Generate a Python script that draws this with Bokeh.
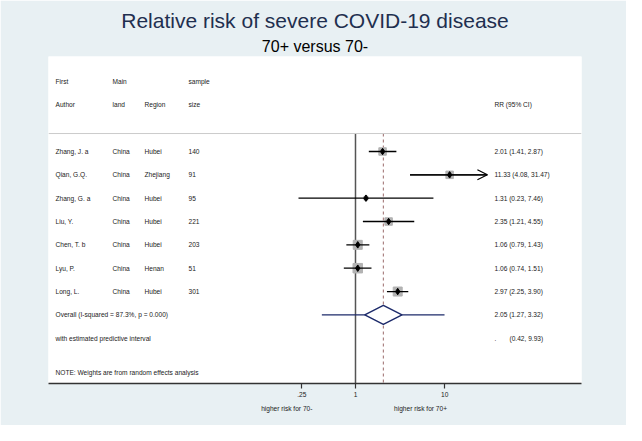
from bokeh.plotting import figure
from bokeh.models import (Range1d, LinearScale, LogAxis, FixedTicker, Span, Title,
                          ColumnDataSource, Arrow, OpenHead)
from bokeh.core.properties import value
from bokeh.embed import file_html
from bokeh.resources import INLINE

# ---------------- data ----------------
authors = ["Zhang, J. a", "Qian, G.Q.", "Zhang, G. a", "Liu, Y.", "Chen, T. b", "Lyu, P.", "Long, L."]
land = ["China", "China", "China", "China", "China", "China", "China"]
region = ["Hubei", "Zhejiang", "Hubei", "Hubei", "Hubei", "Henan", "Hubei"]
sample = ["140", "91", "95", "221", "203", "51", "301"]
rr = [2.01, 11.33, 1.31, 2.35, 1.06, 1.06, 2.97]
lo = [1.41, 4.08, 0.23, 1.21, 0.79, 0.74, 2.25]
hi = [2.87, 31.47, 7.46, 4.55, 1.43, 1.51, 3.90]
box_size = [7.5, 7.5, 4, 7.5, 9, 9.5, 9]
overall_rr = 2.05
overall_lo = 1.27
overall_hi = 3.32
pred_lo = 0.42
pred_hi = 9.93
i_squared = 87.3
p_value = 0.000
tick_values = [0.25, 1, 10]
tick_labels = {0.25: ".25", 1: "1", 10: "10"}
favour_pos = [0.17, 5.35]
favour_labels = {0.17: "higher risk for 70-", 5.35: "higher risk for 70+"}
header1 = ["First", "Main", "", "sample", ""]
header2 = ["Author", "land", "Region", "size", "RR (95% CI)"]

# ---------------- layout constants ----------------
BG = "#e8f0f3"
FONT = "Liberation Sans"
FS = "6.6px"
x_max_clip = 30.0
rows = list(range(1, len(authors) + 1))
row_overall = len(authors) + 1
row_pred = len(authors) + 2
row_note = len(authors) + 3.46
row_h1 = -2.0
row_h2 = -1.0
row_sep = 0.23
y_top, y_bot = -3.07, 10.94
col_x = [7, 64, 96, 140, 446]   # frame pixels from left (table range)

p = figure(width=626, height=425, output_backend="svg", toolbar_location=None,
           x_axis_type="log", x_range=Range1d(10 ** -3.438, 10 ** 2.531),
           y_range=Range1d(y_bot, y_top),
           min_border_left=48, min_border_right=45, min_border_top=56, min_border_bottom=42,
           border_fill_color=BG, background_fill_color="white", outline_line_color=None)
p.extra_x_ranges = {"table": Range1d(0, 533)}
p.extra_x_scales = {"table": LinearScale()}
p.xgrid.visible = False
p.ygrid.visible = False
p.yaxis.visible = False

# titles
p.title.text = "Relative risk of severe COVID-19 disease"
p.title.align = "center"
p.title.text_font = FONT
p.title.text_font_size = "21px"
p.title.text_font_style = "normal"
p.title.text_color = "#1f2f4f"
p.title.standoff = 4
p.add_layout(Title(text="70+ versus 70-", align="center",
                   text_font=FONT, text_font_size="16px", text_font_style="normal",
                   text_color="black", standoff=4), "above")

# main axis
ax = p.xaxis[0]
ax.ticker = FixedTicker(ticks=tick_values)
ax.major_label_overrides = tick_labels
ax.major_tick_in = 0
ax.major_tick_out = 5
ax.minor_tick_line_color = None
ax.axis_line_width = 1.6
ax.axis_line_color = "#333333"
ax.major_tick_line_color = "#333333"
ax.major_tick_line_width = 1.2
ax.major_label_text_font = FONT
ax.major_label_text_font_size = FS
ax.major_label_text_color = "#222222"
ax.major_label_standoff = 3

ax2 = LogAxis(ticker=FixedTicker(ticks=favour_pos), major_label_overrides=favour_labels,
              axis_line_color=None, major_tick_line_color=None, minor_tick_line_color=None,
              major_tick_in=0, major_tick_out=0,
              major_label_text_font=FONT, major_label_text_font_size=FS,
              major_label_text_color="#222222", major_label_standoff=5)
p.add_layout(ax2, "below")

# header separator
p.add_layout(Span(location=row_sep, dimension="width", line_color="#cccccc", line_width=1))

# reference lines
p.segment(x0=[1], x1=[1], y0=[row_sep], y1=[y_bot], line_color="#555555", line_width=1.5)
p.segment(x0=[overall_rr], x1=[overall_rr], y0=[row_sep], y1=[y_bot],
          line_color="#9a6a6a", line_width=1, line_dash="3 3")

# study CIs
hi_draw = [min(h, x_max_clip) for h in hi]
src = ColumnDataSource(dict(rr=rr, lo=lo, hi=hi_draw, y=rows, size=box_size))
p.scatter("rr", "y", source=src, marker="square", size="size",
          fill_color="#b3b3b3", line_color="#b3b3b3", fill_alpha=1)
p.segment(x0="lo", x1="hi", y0="y", y1="y", source=src, line_color="black", line_width=1.3)
p.scatter("rr", "y", source=src, marker="diamond", size=6.5,
          fill_color="black", line_color="black")
clip_idx = [i for i, h in enumerate(hi) if h > x_max_clip]
for i in clip_idx:
    p.add_layout(Arrow(end=OpenHead(size=10, line_width=1.2, line_color="black"),
                       x_start=lo[i], x_end=x_max_clip, y_start=rows[i], y_end=rows[i],
                       line_width=1.3, line_color="black"))

# overall with predictive interval
navy = "#1c2a6a"
p.segment(x0=[pred_lo], x1=[pred_hi], y0=[row_overall], y1=[row_overall],
          line_color=navy, line_width=1.3)
dh = 0.41
p.patch([overall_lo, overall_rr, overall_hi, overall_rr],
        [row_overall, row_overall - dh, row_overall, row_overall + dh],
        fill_color="white", line_color=navy, line_width=1.4)

# table texts
tkw = dict(x_range_name="table", text_font=value(FONT), text_font_size=value(FS),
           text_color="#222222", text_baseline="middle", text_align="left")
p.text(x=col_x, y=[row_h1] * 5, text=header1, **tkw)
p.text(x=col_x, y=[row_h2] * 5, text=header2, **tkw)
p.text(x=[col_x[0]] * len(rows), y=rows, text=authors, **tkw)
p.text(x=[col_x[1]] * len(rows), y=rows, text=land, **tkw)
p.text(x=[col_x[2]] * len(rows), y=rows, text=region, **tkw)
p.text(x=[col_x[3]] * len(rows), y=rows, text=sample, **tkw)
rr_txt = [f"{r:.2f} ({l:.2f}, {h:.2f})" for r, l, h in zip(rr, lo, hi)]
rr_txt.append(f"{overall_rr:.2f} ({overall_lo:.2f}, {overall_hi:.2f})")
p.text(x=[col_x[4]] * len(rr_txt), y=rows + [row_overall], text=rr_txt, **tkw)
p.text(x=[col_x[4], col_x[4] + 15], y=[row_pred, row_pred],
       text=[".", f"({pred_lo:.2f}, {pred_hi:.2f})"], **tkw)
p.text(x=[col_x[0]], y=[row_overall],
       text=[f"Overall  (I-squared = {i_squared:.1f}%, p = {p_value:.3f})"], **tkw)
p.text(x=[col_x[0]], y=[row_pred], text=["with estimated predictive interval"], **tkw)
p.text(x=[col_x[0]], y=[row_note], text=["NOTE: Weights are from random effects analysis"], **tkw)

open("out.html", "w").write(file_html(p, INLINE))
